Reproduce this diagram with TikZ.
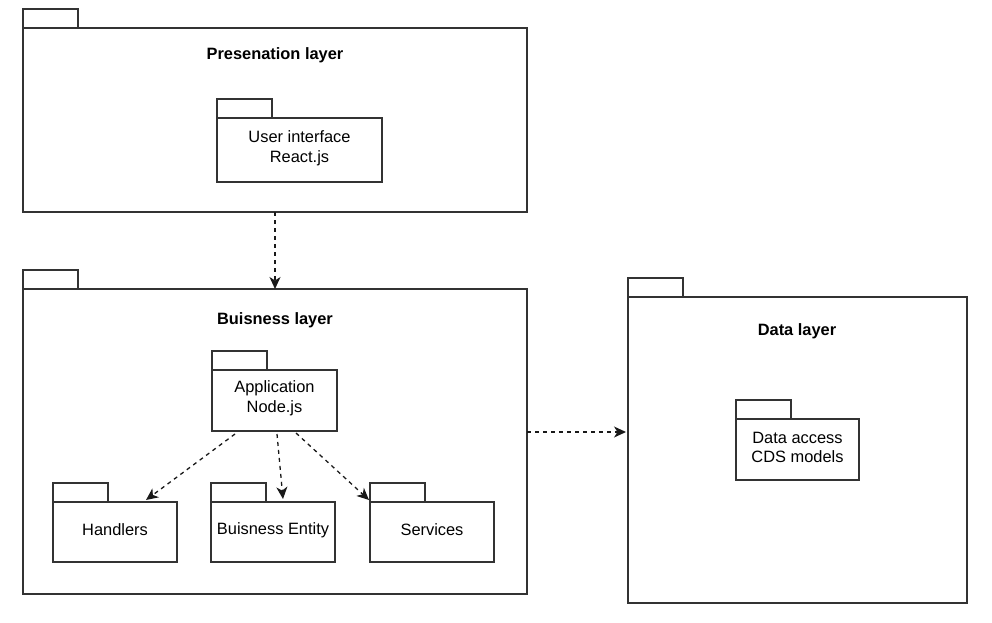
\documentclass[tikz,border=0pt]{standalone}
\usepackage{fontspec}
\setmainfont{Liberation Sans}
\usetikzlibrary{positioning,arrows.meta}

\begin{document}
\begin{tikzpicture}[
  x=1pt, y=-1pt,
  pkg/.style={draw=black!80, line width=1.3pt, rectangle, anchor=north west, inner sep=0pt, outer sep=0pt, label={[pkgtext]center:{#1}}},
  pkg/.default={},
  pkgtext/.style={yshift=2pt, align=center, inner sep=0pt, font=\fontsize{16.4}{19.7}\selectfont},
  tab/.style={draw=black!80, line width=1.3pt, rectangle, minimum width=55pt, minimum height=19pt, inner sep=0pt, outer sep=0pt},
  title/.style={font=\bfseries\fontsize{16.4}{19.7}\selectfont},
  dep/.style={draw=black!90, line width=1.3pt, dash pattern=on 4pt off 4pt, -{Stealth[length=12pt, width=11pt, inset=3.5pt]}}
]
\useasboundingbox (0,0) rectangle (992,623);

% Presentation layer
\node[pkg, minimum width=504pt, minimum height=184pt] (pres) at (23,28) {};
\node[tab, above right=0pt and 0pt of pres.north west] (prestab) {};
\node[title] (prestitle) at (275,55) {Presenation layer};
\node[pkg={User interface\\React.js}, minimum width=165pt, minimum height=64pt] (ui) at (217,118) {};
\node[tab, above right=0pt and 0pt of ui.north west] (uitab) {};

% Business layer
\node[pkg, minimum width=504pt, minimum height=305pt] (bus) at (23,289) {};
\node[tab, above right=0pt and 0pt of bus.north west] (bustab) {};
\node[title] (bustitle) at (275,320) {Buisness layer};
\node[pkg={Application\\Node.js}, minimum width=125pt, minimum height=61pt] (app) at (212,370) {};
\node[tab, above right=0pt and 0pt of app.north west] (apptab) {};
\node[pkg={Handlers}, minimum width=124pt, minimum height=60pt] (hand) at (53,502) {};
\node[tab, above right=0pt and 0pt of hand.north west] (handtab) {};
\node[pkg={Buisness Entity}, minimum width=124pt, minimum height=60pt] (ent) at (211,502) {};
\node[tab, above right=0pt and 0pt of ent.north west] (enttab) {};
\node[pkg={Services}, minimum width=124pt, minimum height=60pt] (serv) at (370,502) {};
\node[tab, above right=0pt and 0pt of serv.north west] (servtab) {};

% Data layer
\node[pkg, minimum width=339pt, minimum height=306pt] (data) at (628,297) {};
\node[tab, above right=0pt and 0pt of data.north west] (datatab) {};
\node[title] (datatitle) at (797,331) {Data layer};
\node[pkg={Data access\\CDS models}, minimum width=123pt, minimum height=61pt] (da) at (736,419) {};
\node[tab, above right=0pt and 0pt of da.north west] (datab) {};

% Dependencies
\coordinate (mid) at (577,432);
\draw[dep] (pres.south) -- (bus.north);
\draw[dep] (bus.east |- mid) -- ([xshift=-2pt]data.west |- mid);
\draw[dep] ([xshift=-39.5pt,yshift=-3pt]app.south) -- ([xshift=31pt,yshift=2pt]hand.north);
\draw[dep] ([xshift=2.5pt,yshift=-3pt]app.south) -- ([xshift=10pt,yshift=3pt]ent.north);
\draw[dep] ([xshift=21.5pt,yshift=-2pt]app.south) -- ([xshift=-1pt,yshift=2pt]serv.north west);

\end{tikzpicture}
\end{document}
